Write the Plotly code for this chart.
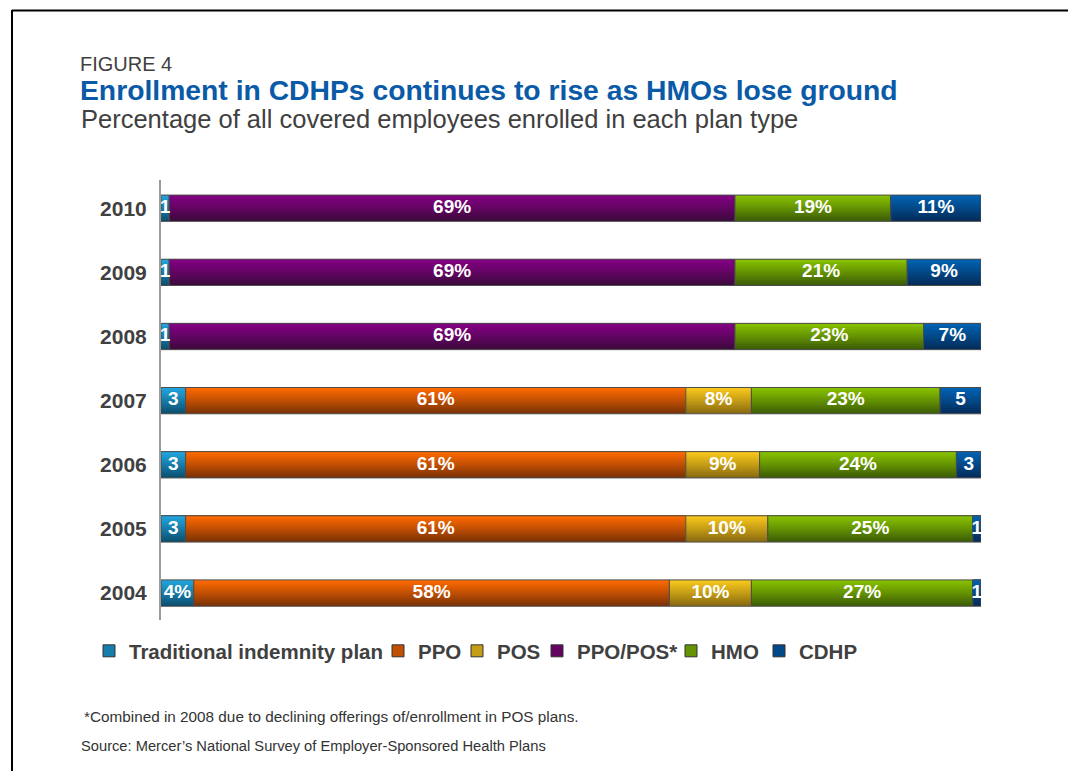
import plotly.graph_objects as go

# ---------------- data ----------------
years = ["2004", "2005", "2006", "2007", "2008", "2009", "2010"]
series_names = ["Traditional indemnity plan", "PPO", "POS", "PPO/POS*", "HMO", "CDHP"]
traditional = [4, 3, 3, 3, 1, 1, 1]
ppo = [58, 61, 61, 61, None, None, None]
pos = [10, 10, 9, 8, None, None, None]
ppo_pos = [None, None, None, None, 69, 69, 69]
hmo = [27, 25, 24, 23, 23, 21, 19]
cdhp = [1, 1, 3, 5, 7, 9, 11]

traditional_labels = ["4%", "3", "3", "3", "1", "1", "1"]
ppo_labels = ["58%", "61%", "61%", "61%", "", "", ""]
pos_labels = ["10%", "10%", "9%", "8%", "", "", ""]
ppo_pos_labels = ["", "", "", "", "69%", "69%", "69%"]
hmo_labels = ["27%", "25%", "24%", "23%", "23%", "21%", "19%"]
cdhp_labels = ["1", "1", "3", "5", "7%", "9%", "11%"]

series_values = [traditional, ppo, pos, ppo_pos, hmo, cdhp]
series_labels = [traditional_labels, ppo_labels, pos_labels, ppo_pos_labels, hmo_labels, cdhp_labels]

# gradient colours (top, bottom)
series_colors = [
    ("#22a6de", "#0a4c6c"),
    ("#ff6a00", "#763006"),
    ("#f9c81c", "#86680f"),
    ("#840084", "#3a0a3a"),
    ("#88c200", "#3a5a06"),
    ("#0062b2", "#052a56"),
]

# legend text start positions (page pixels)
legend_text_x = [129, 418, 497, 577, 711, 799]


def hex_to_rgb(h):
    h = h.lstrip("#")
    return tuple(int(h[i:i + 2], 16) for i in (0, 2, 4))


def mix(c1, c2, t):
    a, b = hex_to_rgb(c1), hex_to_rgb(c2)
    return "rgb(%d,%d,%d)" % tuple(round(a[i] + (b[i] - a[i]) * t) for i in range(3))


fig = go.Figure()

BAR_W = 0.41
N_BANDS = 14
band_w = BAR_W / N_BANDS

# cumulative bases computed from the data
bases = []
running = [0.0] * len(years)
for vals in series_values:
    bases.append(list(running))
    running = [r + (v or 0) for r, v in zip(running, vals)]

for k, (name, vals, base, (ctop, cbot)) in enumerate(zip(series_names, series_values, bases, series_colors)):
    # gradient: nested bars, each anchored at the top edge, darkest (full) first
    for i in range(N_BANDS):
        t_from_top = 1 - (i + 0.5) / N_BANDS
        fig.add_trace(go.Bar(
            orientation="h", y=years, x=vals, base=base,
            width=BAR_W - i * band_w, offset=-BAR_W / 2 + i * band_w,
            marker=dict(color=mix(ctop, cbot, t_from_top ** 1.1), line=dict(width=0)),
            showlegend=False, hoverinfo="skip",
        ))
    # outline
    fig.add_trace(go.Bar(
        orientation="h", y=years, x=vals, base=base,
        width=BAR_W, offset=-BAR_W / 2,
        marker=dict(color="rgba(0,0,0,0)", line=dict(color="#4d4d4d", width=1)),
        showlegend=False, hoverinfo="skip",
    ))
    # legend entry (each in its own legend so it can be placed like the original)
    fig.add_trace(go.Bar(
        orientation="h", y=[None], x=[None], name=name,
        marker=dict(color=mix(ctop, cbot, 0.45), line=dict(color="#333333", width=1)),
        showlegend=True, legend="legend" if k == 0 else "legend%d" % (k + 1),
    ))

# value labels
for vals, base, labels in zip(series_values, bases, series_labels):
    xs, ys, ts = [], [], []
    for y, v, b, lab in zip(years, vals, base, labels):
        if v is None or lab == "":
            continue
        xs.append(b + v / 2)
        ys.append(y)
        ts.append(lab)
    fig.add_trace(go.Scatter(
        x=xs, y=ys, text=ts, mode="text", textposition="middle center",
        textfont=dict(family="Liberation Sans, Arial, sans-serif", size=19, color="white", weight="bold"),
        showlegend=False, hoverinfo="skip", cliponaxis=False,
    ))

OFF = 8  # page body margin
L, R, T, B = 153, 103, 172, 159
W_, H_ = 1076, 771
pw, ph = W_ - L - R, H_ - T - B


def px_x(px):
    return (px - OFF - L) / pw


def px_y(py):
    return (H_ - B - (py - OFF)) / ph


annotations = [
    dict(text="FIGURE 4", x=px_x(78), y=px_y(64), size=20, color="#404040"),
    dict(text="<b>Enrollment in CDHPs continues to rise as HMOs lose ground</b>", x=px_x(78), y=px_y(90),
         size=28.3, color="#0a5aa8"),
    dict(text="Percentage of all covered employees enrolled in each plan type", x=px_x(79), y=px_y(119),
         size=25.5, color="#404040"),
    dict(text="*Combined in 2008 due to declining offerings of/enrollment in POS plans.", x=px_x(82),
         y=px_y(716), size=15.3, color="#333333"),
    dict(text="Source: Mercer\u2019s National Survey of Employer-Sponsored Health Plans", x=px_x(79),
         y=px_y(746), size=14.7, color="#333333"),
]

legend_font = dict(family="Liberation Sans, Arial, sans-serif", size=20.5, color="#404040", weight="bold")
legends = {}
for k, tx in enumerate(legend_text_x):
    key = "legend" if k == 0 else "legend%d" % (k + 1)
    legends[key] = dict(
        orientation="h", x=px_x(tx - 40), y=px_y(651), xanchor="left", yanchor="middle",
        font=legend_font, itemwidth=30, bgcolor="rgba(0,0,0,0)",
    )

fig.update_layout(
    width=W_, height=H_,
    margin=dict(l=L, r=R, t=T, b=B),
    paper_bgcolor="white", plot_bgcolor="white",
    barmode="overlay",
    font=dict(family="Liberation Sans, Arial, sans-serif", color="#404040"),
    showlegend=True,
    xaxis=dict(range=[0, 100], visible=False, fixedrange=True),
    yaxis=dict(
        type="category", categoryorder="array", categoryarray=years,
        range=[-0.42, 6.44], showgrid=False, zeroline=False,
        showline=True, linecolor="#9a9a9a", linewidth=2,
        ticks="", ticklabelstandoff=8,
        tickfont=dict(family="Liberation Sans, Arial, sans-serif", size=21, color="#404040", weight="bold"),
    ),
    annotations=[
        dict(text=a["text"], x=a["x"], y=a["y"], xref="paper", yref="paper",
             xanchor="left", yanchor="middle", showarrow=False,
             font=dict(family="Liberation Sans, Arial, sans-serif", size=a["size"], color=a["color"]))
        for a in annotations
    ],
    shapes=[
        dict(type="line", xref="paper", yref="paper", x0=px_x(12), x1=px_x(1090), y0=px_y(10.5), y1=px_y(10.5),
             line=dict(color="black", width=2)),
        dict(type="line", xref="paper", yref="paper", x0=px_x(12), x1=px_x(12), y0=px_y(10), y1=px_y(790),
             line=dict(color="black", width=2)),
    ],
    **legends,
)

fig.write_html("out.html")
